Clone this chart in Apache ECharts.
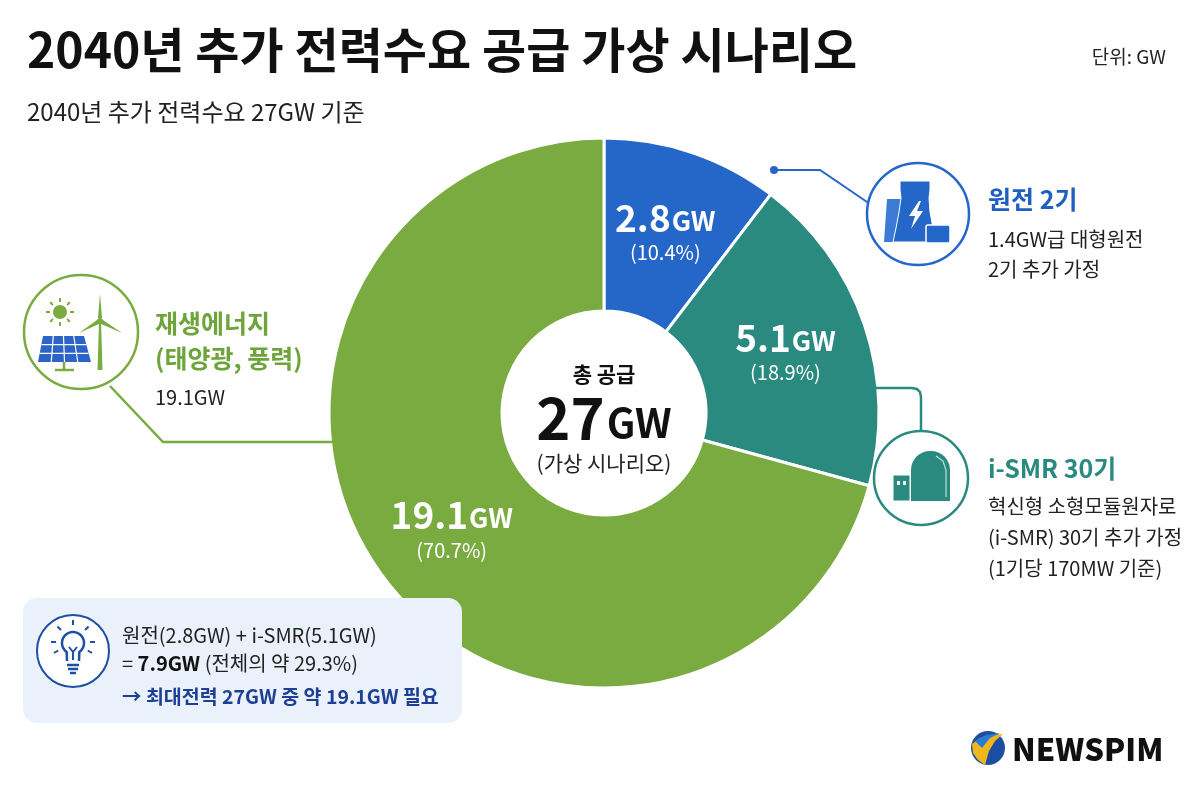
<!DOCTYPE html>
<html>
<head>
<meta charset="utf-8">
<script src="https://cdn.jsdelivr.net/npm/echarts@6/dist/echarts.min.js"></script>
<style>
html,body{margin:0;padding:0;background:#fff;}
#c{width:1200px;height:800px;}
</style>
</head>
<body>
<div id="c"></div>
<script>
// ---- data ----
const categories = ['원전 2기', 'i-SMR 30기', '재생에너지'];
const values = [2.8, 5.1, 19.1];
const totalLabel = '27';
const titleText = '2040년 추가 전력수요 공급 가상 시나리오';
const subtitleText = '2040년 추가 전력수요 27GW 기준';
const unitText = '단위: GW';

// ---- styles ----
const FONT = '"Noto Sans CJK KR", "Noto Sans", sans-serif';
const BLUE = '#2467c9', TEAL = '#2a8a80', GREEN = '#7aab41';
const GREEN_TXT = '#6ea53a', BLUE_TXT = '#1f5fc0', TEAL_TXT = '#2a8a80';
const sliceColors = [BLUE, TEAL, GREEN];

const chart = echarts.init(document.getElementById('c'));

function txt(x, y, text, size, color, weight, align) {
  return { type: 'text', x: x, y: y, z: 20,
    style: { text: text, font: (weight || 'normal') + ' ' + size + 'px ' + FONT, fill: color || '#222',
      textAlign: align || 'left', textVerticalAlign: 'middle' } };
}

const graphics = [];
// title / subtitle / unit
graphics.push(txt(27, 50, titleText, 48, '#111', 'bold'));
graphics.push(txt(27, 112, subtitleText, 24, '#222'));
graphics.push(txt(1166, 57, unitText, 19, '#222', 'normal', 'right'));

// center hole text
graphics.push(txt(604, 374, '총 공급', 21, '#111', 'bold', 'center'));
graphics.push({ type: 'text', x: 604, y: 418, z: 20,
  style: { text: '{a|' + totalLabel + '}{b|GW}', textAlign: 'center', textVerticalAlign: 'middle',
    rich: { a: { fontFamily: FONT, fontSize: 58, fontWeight: 'bold', fill: '#111', color: '#111' },
            b: { fontFamily: FONT, fontSize: 40, fontWeight: 'bold', fill: '#111', color: '#111', padding: [10, 0, 0, 2] } } } });
graphics.push(txt(604, 463, '(가상 시나리오)', 21, '#222', 'normal', 'center'));

// ---- connectors ----
graphics.push({ type: 'polyline', z: 5, shape: { points: [[774, 170], [820, 170], [870, 204]] }, style: { stroke: BLUE, lineWidth: 2, fill: null } });
graphics.push({ type: 'circle', z: 6, shape: { cx: 774, cy: 170, r: 4 }, style: { fill: BLUE } });
graphics.push({ type: 'polyline', z: 5, shape: { points: [[876, 388], [912, 388], [917, 389], [920, 392], [921, 397], [921, 431]] }, style: { stroke: TEAL, lineWidth: 2.5, fill: null } });
graphics.push({ type: 'polyline', z: 5, shape: { points: [[110, 386], [163, 442], [332, 442]] }, style: { stroke: GREEN, lineWidth: 2.5, fill: null } });

// ---- icon: nuclear plant ----
graphics.push({ type: 'circle', z: 7, shape: { cx: 918, cy: 214, r: 51 }, style: { fill: '#fff', stroke: BLUE, lineWidth: 2.5 } });
graphics.push({ type: 'polygon', z: 8, shape: { points: [[887, 199], [903, 199], [901, 242], [884, 242]] }, style: { fill: '#3d7ad6' } });
graphics.push({ type: 'polygon', z: 9, shape: { points: [[900, 181], [930, 181], [930, 190], [929, 198], [930, 212], [933, 228], [936, 242], [893, 242], [896, 228], [899, 212], [901, 198], [900, 190]] }, style: { fill: BLUE, stroke: '#fff', lineWidth: 1 } });
graphics.push({ type: 'polygon', z: 10, shape: { points: [[919, 201], [909, 216], [915, 216], [911, 229], [923, 211], [917, 211], [921, 201]] }, style: { fill: '#fff' } });
graphics.push({ type: 'rect', z: 10, shape: { x: 926, y: 225, width: 24, height: 18, r: 2 }, style: { fill: BLUE, stroke: '#fff', lineWidth: 1.5 } });

// ---- icon: SMR ----
graphics.push({ type: 'circle', z: 7, shape: { cx: 921, cy: 478, r: 47 }, style: { fill: '#fff', stroke: TEAL, lineWidth: 2.5 } });
graphics.push({ type: 'rect', z: 8, shape: { x: 911, y: 451, width: 39, height: 50, r: [19, 19, 0, 0] }, style: { fill: TEAL } });
graphics.push({ type: 'polyline', z: 9, shape: { points: [[936, 456], [943, 461], [946, 470], [946, 497]] }, style: { stroke: '#bfe3de', lineWidth: 1.2, fill: null } });
graphics.push({ type: 'rect', z: 8, shape: { x: 893, y: 475, width: 17, height: 26 }, style: { fill: TEAL, stroke: '#fff', lineWidth: 1 } });
graphics.push({ type: 'rect', z: 9, shape: { x: 897, y: 481, width: 3, height: 4 }, style: { fill: '#fff' } });
graphics.push({ type: 'rect', z: 9, shape: { x: 903, y: 481, width: 3, height: 4 }, style: { fill: '#fff' } });

// ---- icon: renewable ----
graphics.push({ type: 'circle', z: 7, shape: { cx: 81, cy: 332, r: 57 }, style: { fill: '#fff', stroke: GREEN, lineWidth: 2.5 } });
graphics.push({ type: 'circle', z: 8, shape: { cx: 60, cy: 312, r: 7 }, style: { fill: GREEN } });
[0, 45, 90, 135, 180, 225, 270, 315].forEach(function (a) {
  const rad = a * Math.PI / 180;
  graphics.push({ type: 'line', z: 8, shape: { x1: 60 + Math.cos(rad) * 10, y1: 312 + Math.sin(rad) * 10, x2: 60 + Math.cos(rad) * 14, y2: 312 + Math.sin(rad) * 14 }, style: { stroke: GREEN, lineWidth: 2 } });
});
graphics.push({ type: 'polygon', z: 8, shape: { points: [[43, 336], [84, 336], [91, 362], [38, 362]] }, style: { fill: '#2b63c6' } });
[0.25, 0.5, 0.75].forEach(function (t) {
  graphics.push({ type: 'line', z: 9, shape: { x1: 43 + 41 * t, y1: 336, x2: 38 + 53 * t, y2: 362 }, style: { stroke: '#fff', lineWidth: 1.2 } });
});
[1 / 3, 2 / 3].forEach(function (t) {
  graphics.push({ type: 'line', z: 9, shape: { x1: 43 - 5 * t, y1: 336 + 26 * t, x2: 84 + 7 * t, y2: 336 + 26 * t }, style: { stroke: '#fff', lineWidth: 1.2 } });
});
graphics.push({ type: 'line', z: 8, shape: { x1: 64, y1: 362, x2: 64, y2: 370 }, style: { stroke: GREEN, lineWidth: 2.5 } });
graphics.push({ type: 'line', z: 8, shape: { x1: 55, y1: 370, x2: 74, y2: 370 }, style: { stroke: GREEN, lineWidth: 2.5 } });
graphics.push({ type: 'polygon', z: 8, shape: { points: [[99, 322], [101, 322], [102.5, 370], [97.5, 370]] }, style: { fill: GREEN } });
graphics.push({ type: 'polygon', z: 9, shape: { points: [[100, 294], [102, 318], [98, 318]] }, style: { fill: GREEN } });
graphics.push({ type: 'polygon', z: 9, shape: { points: [[79, 333], [97, 320], [99, 324]] }, style: { fill: GREEN } });
graphics.push({ type: 'polygon', z: 9, shape: { points: [[122, 333], [101, 324], [103, 320]] }, style: { fill: GREEN } });
graphics.push({ type: 'circle', z: 10, shape: { cx: 100, cy: 321, r: 3 }, style: { fill: GREEN } });

// ---- right annotations ----
graphics.push(txt(988, 199, '원전 2기', 25, BLUE_TXT, 'bold'));
graphics.push(txt(988, 239, '1.4GW급 대형원전', 20, '#222'));
graphics.push(txt(988, 269, '2기 추가 가정', 20, '#222'));
graphics.push(txt(988, 468, 'i-SMR 30기', 25, TEAL_TXT, 'bold'));
graphics.push(txt(988, 506, '혁신형 소형모듈원자로', 20, '#222'));
graphics.push(txt(988, 537, '(i-SMR) 30기 추가 가정', 20, '#222'));
graphics.push(txt(988, 568, '(1기당 170MW 기준)', 20, '#222'));

// ---- left annotation ----
graphics.push(txt(155, 323, '재생에너지', 25, GREEN_TXT, 'bold'));
graphics.push(txt(155, 358, '(태양광, 풍력)', 25, GREEN_TXT, 'bold'));
graphics.push(txt(155, 397, '19.1GW', 20, '#222'));

// ---- info box ----
graphics.push({ type: 'rect', z: 3, shape: { x: 23, y: 598, width: 439, height: 125, r: 14 }, style: { fill: '#eaf1fb' } });
graphics.push({ type: 'circle', z: 7, shape: { cx: 73, cy: 651, r: 36 }, style: { fill: '#fff', stroke: '#1d4fa5', lineWidth: 2 } });
(function () {
  const pts = [[67, 661]];
  for (let a = 125; a <= 415; a += 10) {
    const rad = a * Math.PI / 180;
    pts.push([73 + Math.cos(rad) * 11, 643 + Math.sin(rad) * 11]);
  }
  pts.push([79, 661]);
  graphics.push({ type: 'polyline', z: 8, shape: { points: pts }, style: { stroke: '#1d4fa5', lineWidth: 2.5, fill: null } });
})();
graphics.push({ type: 'polyline', z: 8, shape: { points: [[69, 647], [73, 652], [77, 647]] }, style: { stroke: '#1d4fa5', lineWidth: 2, fill: null } });
graphics.push({ type: 'line', z: 8, shape: { x1: 73, y1: 652, x2: 73, y2: 660 }, style: { stroke: '#1d4fa5', lineWidth: 2 } });
graphics.push({ type: 'line', z: 8, shape: { x1: 67, y1: 665, x2: 79, y2: 665 }, style: { stroke: '#1d4fa5', lineWidth: 2.5 } });
graphics.push({ type: 'line', z: 8, shape: { x1: 68, y1: 669, x2: 78, y2: 669 }, style: { stroke: '#1d4fa5', lineWidth: 2.5 } });
graphics.push({ type: 'line', z: 8, shape: { x1: 70, y1: 673, x2: 76, y2: 673 }, style: { stroke: '#1d4fa5', lineWidth: 2.5 } });
[-90, -45, -135, 0, 180, 30, 150].forEach(function (a) {
  const rad = a * Math.PI / 180;
  graphics.push({ type: 'line', z: 8, shape: { x1: 73 + Math.cos(rad) * 17, y1: 642 + Math.sin(rad) * 17, x2: 73 + Math.cos(rad) * 22, y2: 642 + Math.sin(rad) * 22 }, style: { stroke: '#1d4fa5', lineWidth: 2 } });
});
graphics.push(txt(122, 635, '원전(2.8GW) + i-SMR(5.1GW)', 20, '#222'));
graphics.push({ type: 'text', x: 122, y: 663, z: 20,
  style: { text: '{n|= }{b|7.9GW}{n| (전체의 약 29.3%)}', textVerticalAlign: 'middle',
    rich: { n: { fontFamily: FONT, fontSize: 20, fill: '#222', color: '#222' },
            b: { fontFamily: FONT, fontSize: 20, fontWeight: 'bold', fill: '#111', color: '#111' } } } });
graphics.push(txt(122, 697, '→ 최대전력 27GW 중 약 19.1GW 필요', 19.5, '#1e3f96', 'bold'));

// ---- logo ----
graphics.push({ type: 'circle', z: 7, shape: { cx: 988, cy: 748, r: 17 }, style: { fill: '#1b4ea3' } });
graphics.push({ type: 'polygon', z: 8, shape: { points: [[972, 744], [980, 738], [992, 735], [1003, 734], [995, 741], [989, 751], [985, 765], [978, 760], [973, 753]] }, style: { fill: '#f2b51c' } });
graphics.push({ type: 'polygon', z: 8, shape: { points: [[975, 741], [986, 735], [1000, 733], [990, 738], [982, 748]] }, style: { fill: '#2a7ad6' } });
graphics.push(txt(1012, 749, 'NEWSPIM', 31, '#111', '900'));

const option = {
  backgroundColor: '#fff',
  animation: false,
  graphic: graphics,
  series: [{
    type: 'pie',
    center: [604, 413],
    radius: [102, 275],
    startAngle: 90,
    clockwise: true,
    percentPrecision: 1,
    itemStyle: { borderColor: '#fff', borderWidth: 3 },
    emphasis: { disabled: true },
    label: {
      show: true,
      position: 'inside',
      formatter: function (p) { return '{v|' + p.value + '}{u|GW}\n{p|(' + p.percent + '%)}'; },
      rich: {
        v: { fontFamily: FONT, fontSize: 37, fontWeight: 'bold', color: '#fff', lineHeight: 42 },
        u: { fontFamily: FONT, fontSize: 27, fontWeight: 'bold', color: '#fff', lineHeight: 42, padding: [6, 0, 0, 1] },
        p: { fontFamily: FONT, fontSize: 20, color: '#fff', lineHeight: 28 }
      }
    },
    labelLine: { show: false },
    data: categories.map(function (c, i) { return { name: c, value: values[i], itemStyle: { color: sliceColors[i] } }; })
  }]
};
chart.setOption(option);
</script>
</body>
</html>
